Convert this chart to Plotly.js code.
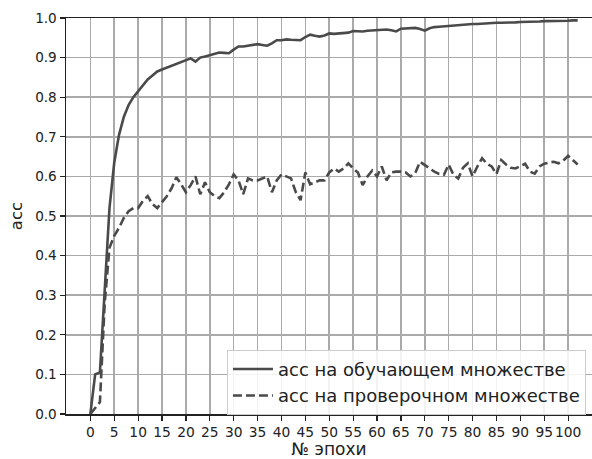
<!DOCTYPE html>
<html>
<head>
<meta charset="utf-8">
<script src="https://cdn.plot.ly/plotly-3.0.1.min.js"></script>
<style>html,body{margin:0;padding:0;background:#fff;}#chart{width:592px;height:459px;}</style>
</head>
<body>
<div id="chart"></div>
<script>
const epochs = Array.from({length: 103}, (_, i) => i);
const trainAcc = [0.0,0.10,0.105,0.30,0.52,0.635,0.705,0.75,0.78,0.80,
  0.815,0.83,0.845,0.855,0.865,0.87,0.875,0.88,0.885,0.89,
  0.893,0.898,0.89,0.90,0.903,0.906,0.91,0.913,0.912,0.911,
  0.92,0.928,0.928,0.93,0.932,0.934,0.932,0.93,0.936,0.944,
  0.944,0.946,0.945,0.944,0.944,0.952,0.958,0.955,0.953,0.956,
  0.961,0.960,0.961,0.962,0.963,0.967,0.966,0.966,0.968,0.969,
  0.970,0.970,0.971,0.969,0.966,0.973,0.974,0.974,0.975,0.972,
  0.968,0.974,0.977,0.978,0.979,0.981,0.982,0.982,0.983,0.984,
  0.985,0.985,0.986,0.986,0.987,0.988,0.988,0.988,0.989,0.989,
  0.990,0.990,0.991,0.991,0.991,0.992,0.992,0.993,0.992,0.993,
  0.993,0.994,0.994];
const valAcc = [0.0,0.015,0.03,0.28,0.42,0.45,0.47,0.495,0.512,0.52,
  0.52,0.538,0.55,0.53,0.52,0.535,0.55,0.57,0.598,0.58,
  0.56,0.578,0.60,0.555,0.585,0.56,0.55,0.545,0.56,0.58,
  0.605,0.59,0.555,0.595,0.59,0.59,0.595,0.60,0.56,0.59,
  0.605,0.60,0.595,0.56,0.54,0.61,0.58,0.585,0.59,0.59,
  0.61,0.62,0.612,0.62,0.633,0.62,0.61,0.578,0.60,0.615,
  0.60,0.625,0.59,0.61,0.612,0.612,0.61,0.60,0.608,0.637,
  0.628,0.62,0.612,0.606,0.604,0.63,0.604,0.595,0.622,0.633,
  0.60,0.625,0.646,0.632,0.625,0.606,0.641,0.63,0.622,0.62,
  0.625,0.632,0.612,0.607,0.625,0.632,0.635,0.637,0.633,0.64,
  0.652,0.64,0.63];
const xTicks = [0,5,10,15,20,25,30,35,40,45,50,55,60,65,70,75,80,85,90,95,100];
const yTicks = [0,0.1,0.2,0.3,0.4,0.5,0.6,0.7,0.8,0.9,1.0];
const trainName = 'acc на обучающем множестве';
const valName = 'acc на проверочном множестве';

const font = 'DejaVu Sans, sans-serif';
const traces = [
  {x: epochs, y: trainAcc, type: 'scatter', mode: 'lines', name: trainName,
   line: {color: '#4a4a4a', width: 2.6}},
  {x: epochs, y: valAcc, type: 'scatter', mode: 'lines', name: valName,
   line: {color: '#4a4a4a', width: 2.6, dash: '9px,4px'}}
];
const layout = {
  width: 592, height: 459,
  margin: {l: 66, r: 0, t: 18, b: 45},
  paper_bgcolor: '#fff', plot_bgcolor: '#fff',
  font: {family: font, color: '#222', size: 13.6},
  showlegend: true,
  legend: {x: 0.306, y: 0.162, xanchor: 'left', yanchor: 'top',
    bgcolor: 'rgba(255,255,255,0.85)', bordercolor: '#cccccc', borderwidth: 1,
    itemwidth: 40,
    font: {family: font, size: 18, color: '#222'}, tracegroupgap: 0},
  xaxis: {range: [-5.1, 105.0], tickvals: xTicks, ticktext: xTicks.map(String),
    tickangle: 0,
    showgrid: true, gridcolor: '#aaaaaa', gridwidth: 1.6, zeroline: false,
    showline: true, linecolor: '#222', linewidth: 1.5, mirror: true,
    ticks: 'outside', ticklen: 5, tickwidth: 1.2, tickcolor: '#222',
    tickfont: {family: font, size: 13.8, color: '#222'},
    title: {text: '№ эпохи', font: {family: font, size: 17, color: '#222'}, standoff: 5}},
  yaxis: {range: [0, 1], tickvals: yTicks, ticktext: yTicks.map(v => v.toFixed(1)),
    showgrid: true, gridcolor: '#aaaaaa', gridwidth: 1.6, zeroline: false,
    showline: true, linecolor: '#222', linewidth: 1.5, mirror: false,
    ticks: 'outside', ticklen: 5, tickwidth: 1.2, tickcolor: '#222',
    tickfont: {family: font, size: 13.6, color: '#222'},
    title: {text: 'acc', font: {family: font, size: 16.5, color: '#222'}, standoff: 8}}
};
Plotly.newPlot('chart', traces, layout, {displayModeBar: false, staticPlot: true});
</script>
</body>
</html>
